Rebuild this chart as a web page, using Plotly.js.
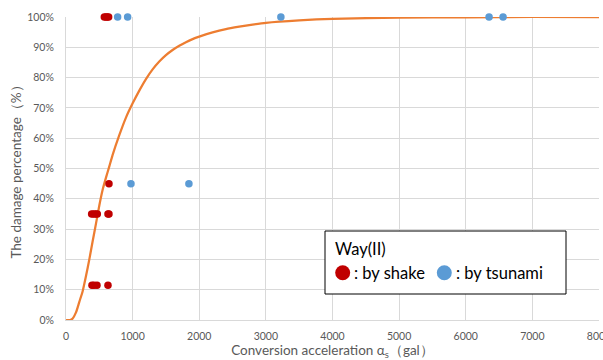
<!DOCTYPE html>
<html>
<head>
<meta charset="utf-8">
<script src="https://cdn.plot.ly/plotly-3.0.1.min.js"></script>
<style>html,body{margin:0;padding:0;background:#fff;}#chart{width:603px;height:360px;}</style>
</head>
<body>
<div id="chart"></div>
<script>
// Fitted curve: acceleration (gal) vs damage percentage
var curveX = [0, 60, 100, 150, 200, 250, 300, 350, 400, 450, 500, 550, 600, 650, 700, 800, 900, 1000, 1100, 1200, 1300, 1400, 1500, 1600, 1700, 1800, 1900, 2000, 2200, 2400, 2600, 2800, 3000, 3500, 4000, 5000, 6000, 7000, 8000];
var curveY = [0, 0, 0.005, 0.025, 0.06, 0.095, 0.145, 0.20, 0.26, 0.318, 0.378, 0.43, 0.47, 0.507, 0.545, 0.61, 0.668, 0.715, 0.757, 0.795, 0.827, 0.853, 0.874, 0.891, 0.905, 0.917, 0.927, 0.935, 0.949, 0.960, 0.968, 0.975, 0.981, 0.989, 0.994, 0.998, 0.999, 1.0, 1.0];

// Damage by shake
var shakeX = [575, 600, 620, 640, 645, 385, 415, 445, 470, 630, 645, 390, 420, 465, 630];
var shakeY = [1.0, 1.0, 1.0, 1.0, 0.45, 0.35, 0.35, 0.35, 0.35, 0.35, 0.35, 0.115, 0.115, 0.115, 0.115];

// Damage by tsunami
var tsunamiX = [775, 925, 3225, 6350, 6560, 975, 1845];
var tsunamiY = [1.0, 1.0, 1.0, 1.0, 1.0, 0.45, 0.45];

var xTicks = [0, 1000, 2000, 3000, 4000, 5000, 6000, 7000, 8000];
var yTicks = [0, 0.1, 0.2, 0.3, 0.4, 0.5, 0.6, 0.7, 0.8, 0.9, 1.0];

var legendTitle = 'Way(II)';
var legendShake = ': by shake';
var legendTsunami = ': by tsunami';

var RED = '#C00000', BLUE = '#5B9BD5', ORANGE = '#ED7D31';
var FONT = 'Lato, "Liberation Sans", sans-serif';

var traces = [
  {x: curveX, y: curveY, type: 'scatter', mode: 'lines', line: {color: ORANGE, width: 2.25, shape: 'spline', smoothing: 0.6}, showlegend: false, hoverinfo: 'skip'},
  {x: shakeX, y: shakeY, type: 'scatter', mode: 'markers', marker: {color: RED, size: 7.5}, showlegend: false, cliponaxis: false},
  {x: tsunamiX, y: tsunamiY, type: 'scatter', mode: 'markers', marker: {color: BLUE, size: 7.5}, showlegend: false, cliponaxis: false}
];

// plot area pixels: x 66..599, y 17..320
var L = 66, T = 17, W = 533, H = 303;
function px(p) { return (p - L) / W; }
function py(p) { return 1 - (p - T) / H; }

var layout = {
  width: 603, height: 360,
  margin: {l: L, r: 603 - L - W, t: T, b: 360 - T - H},
  paper_bgcolor: '#fff', plot_bgcolor: '#fff',
  font: {family: FONT, color: '#595959', size: 10.5},
  xaxis: {
    range: [0, 8000], tickvals: xTicks, ticktext: xTicks.map(String),
    showgrid: true, gridcolor: '#D9D9D9', gridwidth: 1,
    zeroline: false, showline: true, linecolor: '#D9D9D9', linewidth: 1,
    ticks: '', ticklabelstandoff: 6, ticklabeloverflow: 'allow',
    tickfont: {family: FONT, size: 10.5, color: '#595959'},
    title: {text: 'Conversion acceleration α<sub>s</sub>（gal）', font: {family: FONT, size: 13.5, color: '#595959'}, standoff: 6}
  },
  yaxis: {
    range: [0, 1], tickvals: yTicks, tickformat: '.0%',
    showgrid: true, gridcolor: '#D9D9D9', gridwidth: 1,
    zeroline: false, showline: true, linecolor: '#D9D9D9', linewidth: 1,
    ticks: '', ticklabelstandoff: 9,
    tickfont: {family: FONT, size: 10.5, color: '#595959'},
    title: {text: 'The damage percentage（%）', font: {family: FONT, size: 13.5, color: '#595959'}, standoff: 2}
  },
  shapes: [
    {type: 'rect', xref: 'paper', yref: 'paper', x0: px(325), x1: px(566), y0: py(294), y1: py(231), line: {color: '#000', width: 1}, fillcolor: '#fff', layer: 'above'},
    {type: 'circle', xref: 'paper', yref: 'paper', xsizemode: 'pixel', ysizemode: 'pixel', xanchor: px(342.7), yanchor: py(272.7), x0: -7.5, x1: 7.5, y0: -7.5, y1: 7.5, fillcolor: RED, line: {width: 0}, layer: 'above'},
    {type: 'circle', xref: 'paper', yref: 'paper', xsizemode: 'pixel', ysizemode: 'pixel', xanchor: px(444.3), yanchor: py(272.7), x0: -7.5, x1: 7.5, y0: -7.5, y1: 7.5, fillcolor: BLUE, line: {width: 0}, layer: 'above'}
  ],
  annotations: [
    {xref: 'paper', yref: 'paper', x: px(333), y: py(249), xanchor: 'left', yanchor: 'middle', showarrow: false, text: legendTitle, font: {family: FONT, size: 16.5, color: '#000'}},
    {xref: 'paper', yref: 'paper', x: px(352), y: py(272.7), xanchor: 'left', yanchor: 'middle', showarrow: false, text: legendShake, font: {family: FONT, size: 16.5, color: '#000'}},
    {xref: 'paper', yref: 'paper', x: px(454), y: py(272.7), xanchor: 'left', yanchor: 'middle', showarrow: false, text: legendTsunami, font: {family: FONT, size: 16.5, color: '#000'}}
  ]
};

Plotly.newPlot('chart', traces, layout, {displayModeBar: false, staticPlot: true});
</script>
</body>
</html>
